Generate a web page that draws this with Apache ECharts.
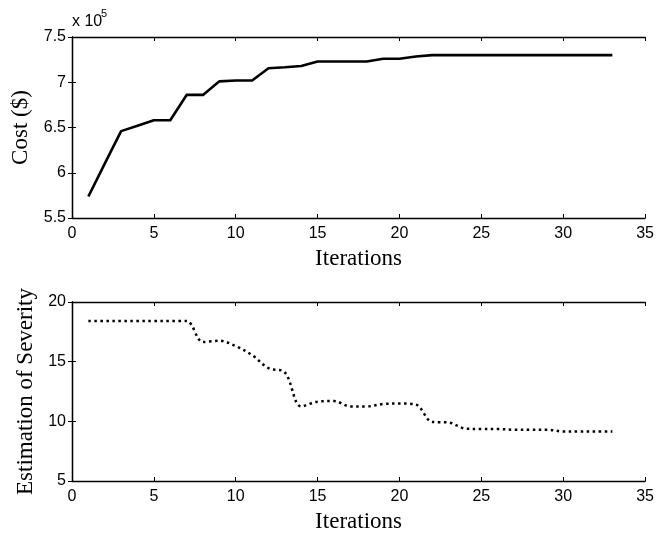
<!DOCTYPE html>
<html>
<head>
<meta charset="utf-8">
<script src="https://cdn.jsdelivr.net/npm/echarts@6/dist/echarts.min.js"></script>
<style>
  html, body { margin: 0; padding: 0; background: #fff; }
  #chart { width: 657px; height: 534px; }
</style>
</head>
<body>
<div id="chart"></div>
<script>
// Iteration numbers shared by both panels
const iterations = [1,2,3,4,5,6,7,8,9,10,11,12,13,14,15,16,17,18,19,20,21,22,23,24,25,26,27,28,29,30,31,32,33];

// Cost per iteration ($)
const costValues = [573800, 610000, 646000, 652000, 658000, 658000, 686000, 686000, 701000, 702000,
  702000, 715500, 716500, 718000, 723000, 723000, 723000, 723000, 726000, 726000,
  728500, 730000, 730000, 730000, 730000, 730000, 730000, 730000, 730000, 730000,
  730000, 730000, 730000];

// Estimated severity per iteration
const severityValues = [18.4, 18.4, 18.4, 18.4, 18.4, 18.4, 18.4, 16.65, 16.75, 16.3,
  15.55, 14.45, 14.1, 11.25, 11.65, 11.7, 11.25, 11.25, 11.45, 11.5,
  11.4, 9.95, 9.9, 9.4, 9.35, 9.35, 9.3, 9.3, 9.3, 9.15,
  9.15, 9.15, 9.15];

const xTicks = [0, 35, 5];           // min, max, interval
const costTicks = [550000, 750000, 50000];
const severityTicks = [5, 20, 5];

const tickFont = { fontFamily: 'Liberation Sans, Arial, sans-serif', fontSize: 16, color: '#000' };
const titleFont = { fontFamily: 'Liberation Serif, Times New Roman, serif', fontSize: 23, color: '#000' };
const frameLine = { show: true, lineStyle: { color: '#000', width: 1.3 } };
const innerTick = { show: true, inside: true, length: 4, lineStyle: { color: '#000', width: 1 } };

function xAxisPair(gridIndex) {
  return [
    {
      type: 'value', gridIndex, position: 'bottom',
      min: xTicks[0], max: xTicks[1], interval: xTicks[2],
      axisLine: frameLine, axisTick: innerTick,
      axisLabel: Object.assign({ margin: 8 }, tickFont),
      splitLine: { show: false },
      name: 'Iterations', nameLocation: 'middle', nameGap: 29, nameTextStyle: titleFont
    },
    {
      type: 'value', gridIndex, position: 'top',
      min: xTicks[0], max: xTicks[1], interval: xTicks[2],
      axisLine: frameLine, axisTick: innerTick,
      axisLabel: { show: false }, splitLine: { show: false }
    }
  ];
}

function yAxisPair(gridIndex, ticks, name, gap, fmt) {
  return [
    {
      type: 'value', gridIndex, position: 'left',
      min: ticks[0], max: ticks[1], interval: ticks[2],
      axisLine: frameLine, axisTick: innerTick,
      axisLabel: Object.assign({ margin: 6, formatter: fmt }, tickFont),
      splitLine: { show: false },
      name, nameLocation: 'middle', nameGap: gap, nameTextStyle: titleFont
    },
    {
      type: 'value', gridIndex, position: 'right',
      min: ticks[0], max: ticks[1], interval: ticks[2],
      axisLine: frameLine, axisTick: innerTick,
      axisLabel: { show: false }, splitLine: { show: false }
    }
  ];
}

const chart = echarts.init(document.getElementById('chart'), null, { renderer: 'canvas' });

chart.setOption({
  backgroundColor: '#fff',
  animation: false,
  grid: [
    { left: 72, right: 10, top: 37, height: 181 },
    { left: 72, right: 10, top: 302, height: 180 }
  ],
  graphic: [
    {
      type: 'text', left: 72, top: 14,
      style: { text: 'x 10', fontFamily: 'Liberation Sans, Arial, sans-serif', fontSize: 16, fill: '#000' }
    },
    {
      type: 'text', left: 101, top: 8,
      style: { text: '5', fontFamily: 'Liberation Sans, Arial, sans-serif', fontSize: 11, fill: '#000' }
    }
  ],
  xAxis: [...xAxisPair(0), ...xAxisPair(1)],
  yAxis: [
    ...yAxisPair(0, costTicks, 'Cost ($)', 36, v => String(+(v / 1e5).toFixed(1))),
    ...yAxisPair(1, severityTicks, 'Estimation of Severity', 32, v => String(v))
  ],
  series: [
    {
      type: 'line', xAxisIndex: 0, yAxisIndex: 0,
      data: iterations.map((it, i) => [it, costValues[i]]),
      showSymbol: false, symbol: 'none',
      lineStyle: { color: '#000', width: 2.6, type: 'solid', join: 'round' }
    },
    {
      type: 'line', xAxisIndex: 2, yAxisIndex: 2,
      data: iterations.map((it, i) => [it, severityValues[i]]),
      showSymbol: false, symbol: 'none', smooth: 0.35,
      lineStyle: { color: '#000', width: 2.5, type: [2.5, 3.5] }
    }
  ]
});
</script>
</body>
</html>
